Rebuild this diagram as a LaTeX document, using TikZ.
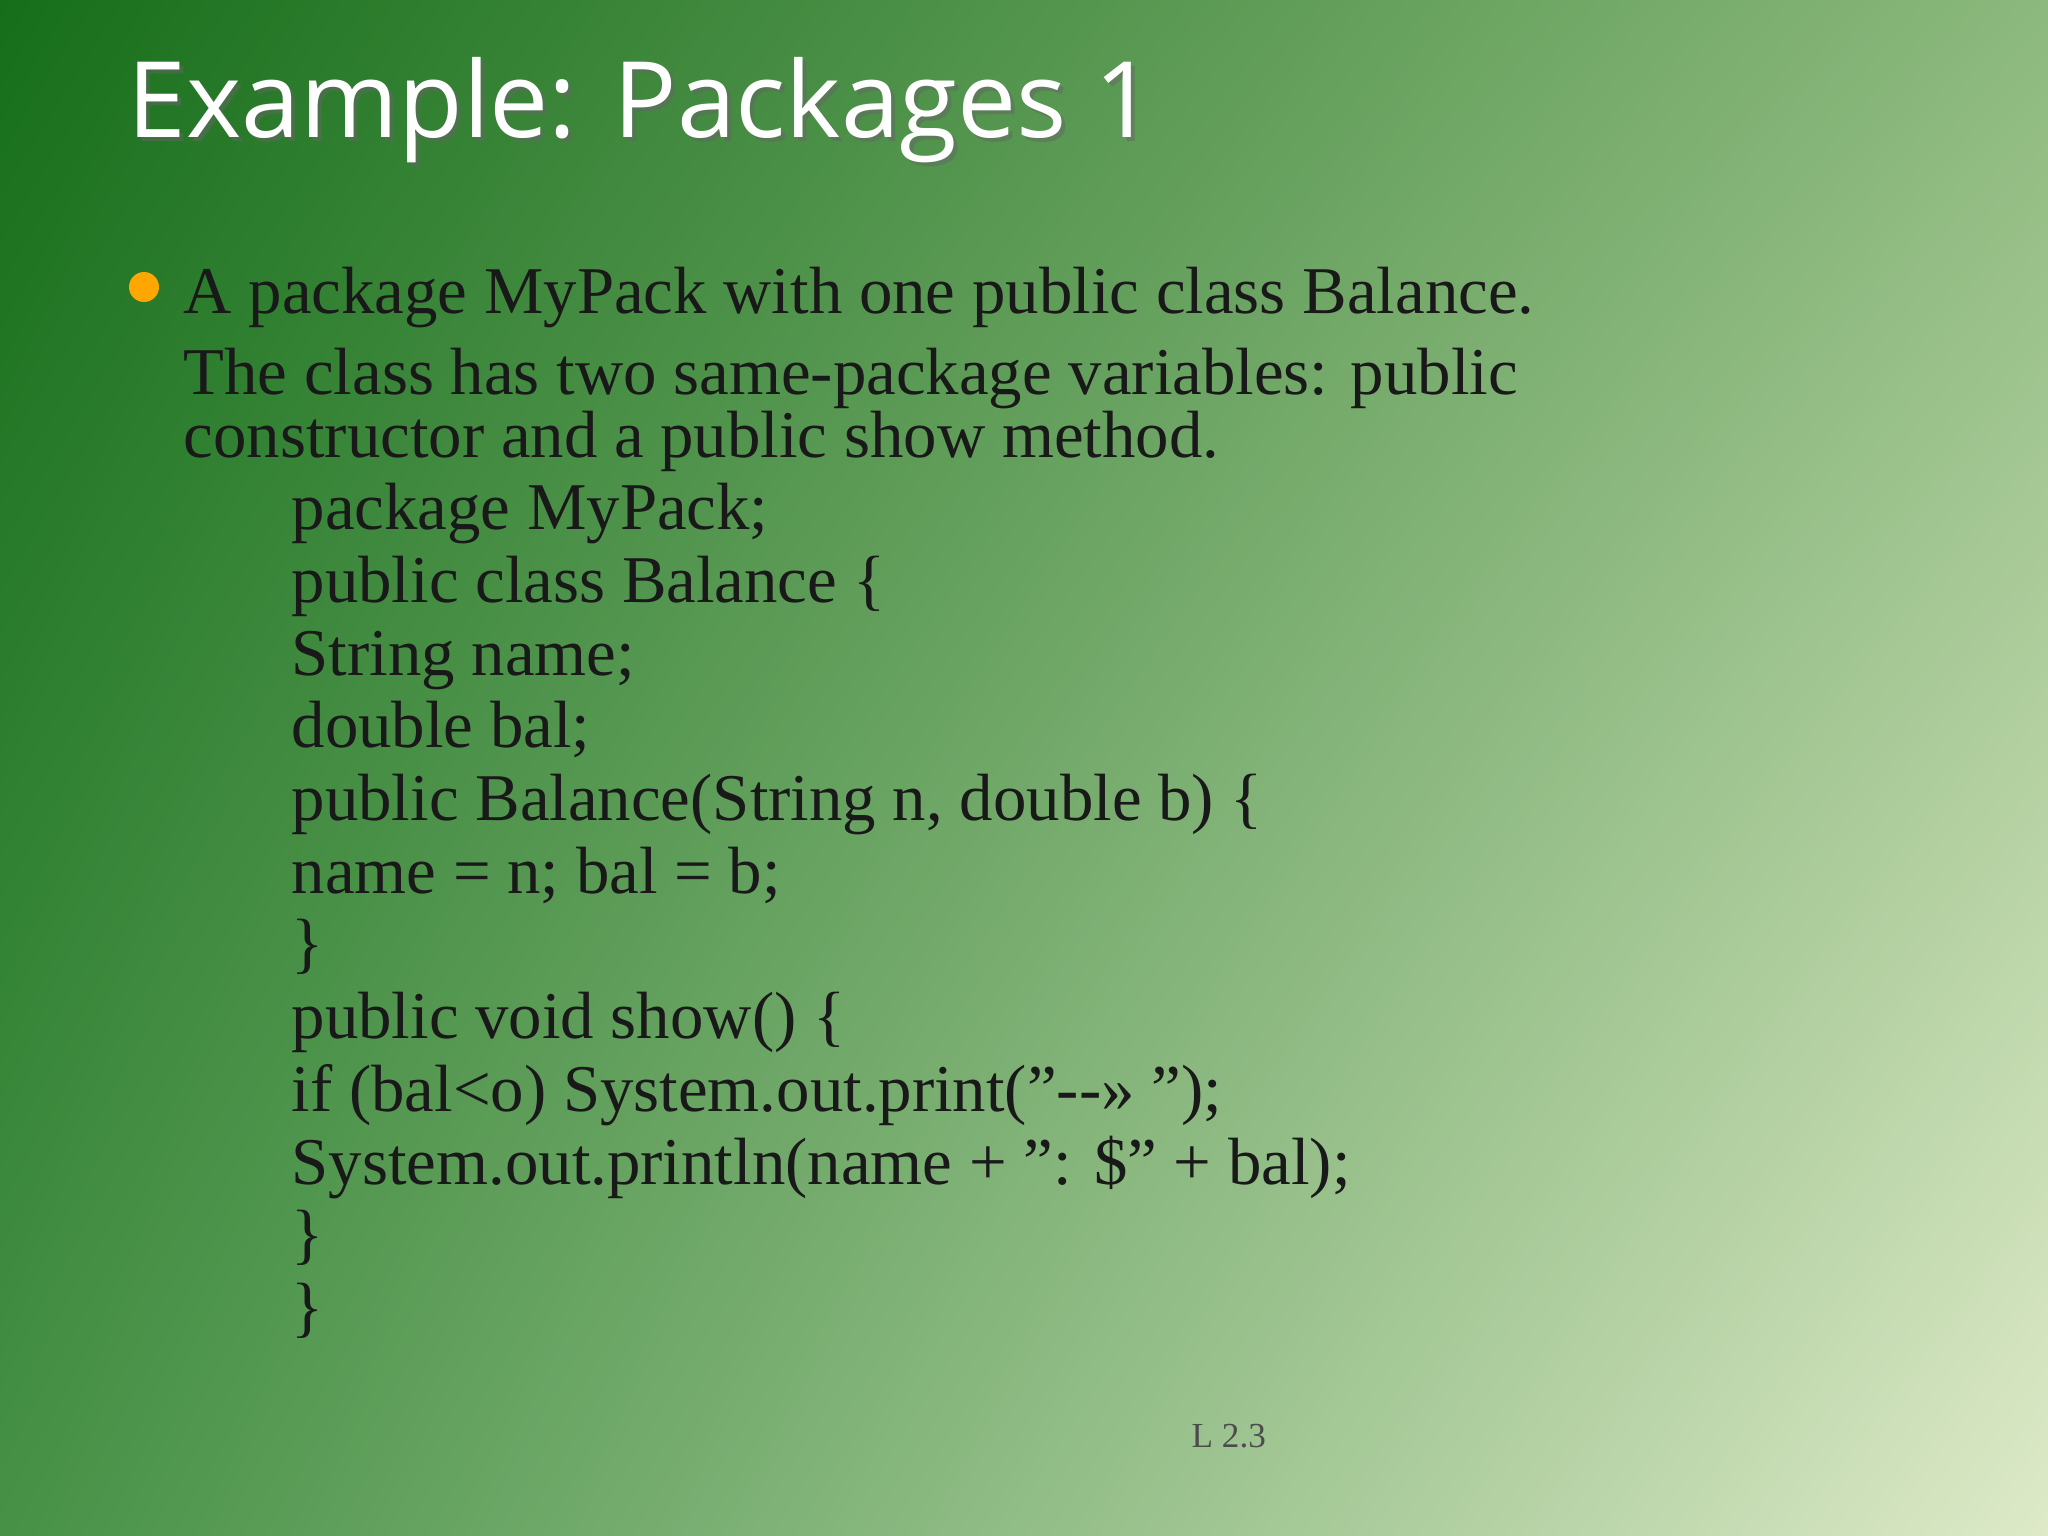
\documentclass[tikz,border=0pt]{standalone}
\usepackage{fontspec}
\usetikzlibrary{shadings}
\setmainfont{Liberation Serif}
\newfontfamily\titlefont{Open Sans}
\definecolor{cul}{RGB}{22,110,26}
\definecolor{cur}{RGB}{140,185,125}
\definecolor{cll}{RGB}{70,145,70}
\definecolor{clr}{RGB}{222,234,200}
\begin{document}
\begin{tikzpicture}[x=0.01cm,y=-0.01cm,
  body/.style={anchor=base west,inner sep=0pt,font=\fontsize{19pt}{22pt}\selectfont,text=black!90},
  code/.style={body}]
\shade[upper left=cul,upper right=cur,lower left=cll,lower right=clr]
  (0,0) rectangle (2048,1536);
\node[anchor=base west,inner sep=0pt,text=black!60,opacity=0.5,font=\titlefont\fontsize{30pt}{34pt}\selectfont] at (131,141) {Example: Packages 1};
\node (title)[anchor=base west,inner sep=0pt,text=white,font=\titlefont\fontsize{30pt}{34pt}\selectfont] at (127,137) {Example: Packages 1};
\fill[orange!70!yellow] (144,287) circle (15);
\node (l1)[body] at (183,313) {A package MyPack with one public class Balance.};
\node (l2)[body] at (183,394) {The class has two same-package variables: public};
\node (l3)[body] at (183,457) {constructor and a public show method.};
\foreach \t [count=\i] in {package MyPack;,public class Balance \{,String name;,double bal;,
  public Balance(String n\char44\ double b) \{,name = n; bal = b;,\},public void show() \{,
  if (bal<o) System.out.print("-{}->> ");,System.out.println(name + ": \$" + bal);,\},\}}
  \node (c\i)[code] at (291,{457+(\i)*72.7}) {\t};
\node (pg)[anchor=base west,inner sep=0pt,text=black!70,font=\fontsize{10pt}{12pt}\selectfont] at (1191,1447) {L 2.3};
\end{tikzpicture}
\end{document}
